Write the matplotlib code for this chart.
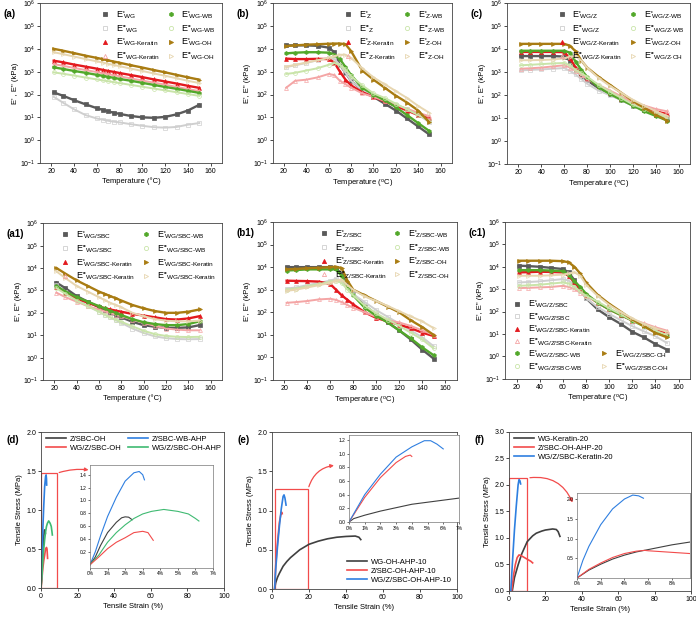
import numpy as np
import matplotlib
matplotlib.use("Agg")
import matplotlib.pyplot as plt
from matplotlib.lines import Line2D
from matplotlib.patches import Rectangle, FancyArrowPatch
from matplotlib.ticker import LogLocator, NullLocator

plt.rcParams['font.family'] = ['Liberation Sans', 'DejaVu Sans']
plt.rcParams['mathtext.fontset'] = 'custom'
plt.rcParams['mathtext.rm'] = 'Liberation Sans'
plt.rcParams['mathtext.it'] = 'Liberation Sans:italic'
plt.rcParams['mathtext.bf'] = 'Liberation Sans:bold'
plt.rcParams['axes.linewidth'] = 0.6
plt.rcParams['axes.edgecolor'] = '#444444'

# temperature grid (°C) of the read points
T = [22, 30, 40, 50, 60, 65, 70, 75, 80, 90, 100, 110, 120, 130, 140, 150]

# all moduli below are log10(E / kPa)
# (a) WG
a_base_e1 = [2.09, 1.95, 1.75, 1.57, 1.40, 1.33, 1.26, 1.20, 1.15, 1.06, 1.00, 0.98, 1.02, 1.13, 1.30, 1.55]
a_base_e2 = [1.90, 1.65, 1.35, 1.10, 0.95, 0.90, 0.85, 0.81, 0.78, 0.70, 0.63, 0.57, 0.55, 0.58, 0.68, 0.75]
a_ker_e1 = [3.48, 3.41, 3.31, 3.22, 3.13, 3.08, 3.03, 2.99, 2.94, 2.85, 2.76, 2.66, 2.57, 2.48, 2.38, 2.29]
a_ker_e2 = [3.33, 3.26, 3.16, 3.07, 2.98, 2.93, 2.89, 2.84, 2.80, 2.70, 2.61, 2.52, 2.43, 2.33, 2.24, 2.15]
a_wb_e1 = [3.19, 3.12, 3.03, 2.95, 2.86, 2.82, 2.77, 2.73, 2.68, 2.60, 2.51, 2.42, 2.33, 2.25, 2.16, 2.07]
a_wb_e2 = [2.97, 2.91, 2.83, 2.74, 2.66, 2.62, 2.58, 2.54, 2.50, 2.42, 2.34, 2.26, 2.18, 2.10, 2.02, 1.94]
a_oh_e1 = [4.00, 3.92, 3.81, 3.70, 3.60, 3.55, 3.49, 3.44, 3.39, 3.28, 3.18, 3.07, 2.97, 2.86, 2.75, 2.65]
a_oh_e2 = [3.85, 3.77, 3.66, 3.55, 3.45, 3.40, 3.34, 3.29, 3.24, 3.13, 3.03, 2.92, 2.82, 2.71, 2.60, 2.50]

# (b) Z
b_base_e1 = [4.15, 4.15, 4.15, 4.13, 4.05, 3.85, 3.30, 2.95, 2.60, 2.20, 1.90, 1.60, 1.30, 0.95, 0.60, 0.25]
b_base_e2 = [3.20, 3.28, 3.38, 3.50, 3.60, 3.55, 3.30, 2.95, 2.60, 2.20, 1.95, 1.75, 1.55, 1.35, 1.10, 0.80]
b_ker_e1 = [3.57, 3.55, 3.55, 3.56, 3.55, 3.40, 3.00, 2.65, 2.40, 2.10, 1.90, 1.70, 1.50, 1.30, 1.10, 0.95]
b_ker_e2 = [2.30, 2.60, 2.65, 2.75, 2.90, 2.85, 2.60, 2.45, 2.30, 2.05, 1.90, 1.72, 1.55, 1.38, 1.20, 1.05]
b_wb_e1 = [3.80, 3.83, 3.85, 3.85, 3.83, 3.75, 3.55, 3.20, 2.85, 2.30, 2.00, 1.75, 1.45, 1.10, 0.75, 0.40]
b_wb_e2 = [2.90, 2.95, 3.05, 3.15, 3.30, 3.38, 3.30, 3.10, 2.80, 2.40, 2.05, 1.85, 1.60, 1.35, 1.10, 0.85]
b_oh_e1 = [4.12, 4.15, 4.18, 4.20, 4.22, 4.23, 4.23, 4.20, 3.90, 3.05, 2.65, 2.30, 1.95, 1.65, 1.30, 0.78]
b_oh_e2 = [3.22, 3.30, 3.40, 3.50, 3.60, 3.68, 3.74, 3.74, 3.60, 3.15, 2.75, 2.45, 2.15, 1.85, 1.50, 1.20]

# (c) WG/Z
c_base_e1 = [3.70, 3.70, 3.70, 3.70, 3.68, 3.50, 3.10, 2.85, 2.65, 2.30, 2.05, 1.80, 1.55, 1.35, 1.15, 0.95]
c_base_e2 = [3.08, 3.10, 3.12, 3.15, 3.18, 3.05, 2.90, 2.70, 2.50, 2.20, 2.00, 1.78, 1.55, 1.38, 1.20, 1.10]
c_ker_e1 = [3.88, 3.88, 3.88, 3.88, 3.87, 3.60, 3.20, 2.95, 2.75, 2.40, 2.10, 1.85, 1.60, 1.45, 1.30, 1.18]
c_ker_e2 = [3.15, 3.17, 3.20, 3.25, 3.30, 3.20, 3.05, 2.88, 2.70, 2.45, 2.20, 1.95, 1.70, 1.55, 1.40, 1.30]
c_wb_e1 = [3.93, 3.93, 3.93, 3.93, 3.93, 3.85, 3.45, 3.10, 2.80, 2.35, 2.05, 1.80, 1.55, 1.30, 1.10, 0.90]
c_wb_e2 = [3.30, 3.32, 3.35, 3.38, 3.40, 3.30, 3.10, 2.95, 2.80, 2.45, 2.15, 1.88, 1.60, 1.40, 1.20, 1.00]
c_oh_e1 = [4.23, 4.23, 4.23, 4.23, 4.23, 4.15, 3.90, 3.50, 3.20, 2.80, 2.45, 2.10, 1.75, 1.45, 1.15, 0.90]
c_oh_e2 = [3.52, 3.52, 3.53, 3.55, 3.60, 3.68, 3.70, 3.50, 3.20, 2.75, 2.40, 2.10, 1.80, 1.55, 1.30, 1.10]

# (a1) WG/SBC
a1_base_e1 = [3.35, 3.10, 2.75, 2.50, 2.25, 2.12, 2.00, 1.90, 1.80, 1.60, 1.45, 1.38, 1.33, 1.33, 1.35, 1.45]
a1_base_e2 = [3.25, 2.95, 2.60, 2.30, 2.05, 1.92, 1.80, 1.67, 1.55, 1.30, 1.10, 0.95, 0.87, 0.83, 0.82, 0.83]
a1_ker_e1 = [3.15, 2.90, 2.65, 2.45, 2.28, 2.21, 2.15, 2.10, 2.05, 1.95, 1.88, 1.80, 1.72, 1.70, 1.75, 1.85]
a1_ker_e2 = [2.90, 2.70, 2.50, 2.30, 2.15, 2.07, 2.00, 1.92, 1.85, 1.70, 1.55, 1.42, 1.30, 1.25, 1.22, 1.22]
a1_wb_e1 = [3.20, 2.95, 2.70, 2.50, 2.30, 2.20, 2.10, 2.00, 1.90, 1.72, 1.58, 1.50, 1.45, 1.45, 1.50, 1.62]
a1_wb_e2 = [3.10, 2.85, 2.55, 2.30, 2.05, 1.92, 1.80, 1.70, 1.60, 1.40, 1.20, 1.05, 0.97, 0.93, 0.92, 0.93]
a1_oh_e1 = [4.00, 3.75, 3.45, 3.20, 2.95, 2.85, 2.75, 2.65, 2.55, 2.35, 2.20, 2.08, 2.00, 2.00, 2.05, 2.15]
a1_oh_e2 = [3.85, 3.55, 3.20, 2.95, 2.70, 2.57, 2.45, 2.35, 2.25, 2.00, 1.85, 1.72, 1.65, 1.62, 1.62, 1.65]

# (b1) Z/SBC
b1_base_e1 = [4.00, 4.00, 4.00, 4.00, 4.00, 3.95, 3.70, 3.20, 2.80, 2.30, 1.90, 1.55, 1.20, 0.80, 0.35, -0.05]
b1_base_e2 = [3.05, 3.10, 3.20, 3.30, 3.40, 3.48, 3.40, 3.10, 2.80, 2.45, 2.10, 1.80, 1.50, 1.20, 0.90, 0.50]
b1_ker_e1 = [3.40, 3.39, 3.38, 3.36, 3.25, 3.00, 2.75, 2.55, 2.35, 2.00, 1.75, 1.60, 1.45, 1.30, 1.10, 0.95]
b1_ker_e2 = [2.42, 2.45, 2.50, 2.57, 2.60, 2.55, 2.45, 2.32, 2.20, 2.00, 1.80, 1.65, 1.55, 1.40, 1.20, 1.00]
b1_wb_e1 = [3.85, 3.87, 3.90, 3.90, 3.90, 3.90, 3.60, 3.10, 2.75, 2.20, 1.85, 1.55, 1.20, 0.85, 0.45, 0.10]
b1_wb_e2 = [3.00, 3.05, 3.15, 3.25, 3.35, 3.40, 3.30, 3.00, 2.75, 2.30, 1.95, 1.68, 1.40, 1.10, 0.80, 0.40]
b1_oh_e1 = [3.90, 3.92, 3.95, 3.97, 4.00, 4.02, 3.95, 3.40, 3.00, 2.75, 2.50, 2.25, 2.00, 1.65, 1.35, 1.00]
b1_oh_e2 = [2.95, 3.00, 3.10, 3.20, 3.30, 3.40, 3.45, 3.20, 3.00, 2.70, 2.50, 2.28, 2.05, 1.82, 1.60, 1.30]

# (c1) WG/Z/SBC
c1_base_e1 = [4.05, 4.03, 4.00, 3.95, 3.90, 3.75, 3.40, 3.00, 2.60, 2.10, 1.75, 1.45, 1.10, 0.85, 0.55, 0.30]
c1_base_e2 = [3.30, 3.32, 3.35, 3.40, 3.45, 3.38, 3.20, 2.90, 2.60, 2.20, 1.90, 1.62, 1.35, 1.12, 0.90, 0.60]
c1_ker_e1 = [3.75, 3.76, 3.78, 3.77, 3.75, 3.60, 3.30, 3.00, 2.75, 2.40, 2.10, 1.85, 1.60, 1.40, 1.20, 1.05]
c1_ker_e2 = [3.05, 3.06, 3.08, 3.10, 3.15, 3.10, 3.00, 2.85, 2.70, 2.40, 2.10, 1.88, 1.65, 1.48, 1.30, 1.15]
c1_wb_e1 = [3.85, 3.85, 3.85, 3.83, 3.80, 3.65, 3.35, 3.10, 2.80, 2.40, 2.10, 1.85, 1.60, 1.35, 1.10, 0.90]
c1_wb_e2 = [3.15, 3.17, 3.20, 3.25, 3.30, 3.25, 3.10, 2.90, 2.70, 2.45, 2.15, 1.88, 1.60, 1.38, 1.15, 0.95]
c1_oh_e1 = [4.27, 4.27, 4.27, 4.27, 4.25, 4.20, 4.00, 3.70, 3.30, 2.75, 2.35, 2.00, 1.65, 1.35, 1.05, 0.85]
c1_oh_e2 = [3.60, 3.60, 3.60, 3.62, 3.65, 3.70, 3.75, 3.60, 3.20, 2.70, 2.30, 1.98, 1.70, 1.45, 1.25, 1.10]

# tensile curves: strain (%), stress (MPa)
d_zsbc_oh_x = [0, 0.3, 0.6, 1.0, 1.5, 1.8, 2.0, 2.2, 2.4]
d_zsbc_oh_y = [0, 0.12, 0.30, 0.50, 0.66, 0.73, 0.745, 0.74, 0.70]
d_zsbc_wb_x = [0, 0.3, 0.6, 1.0, 1.5, 2.0, 2.5, 2.8, 3.0, 3.1]
d_zsbc_wb_y = [0, 0.20, 0.45, 0.75, 1.05, 1.30, 1.43, 1.45, 1.40, 1.32]
d_wgz_oh_x = [0, 0.5, 1.0, 1.5, 2.0, 2.5, 3.0, 3.3, 3.6]
d_wgz_oh_y = [0, 0.12, 0.25, 0.35, 0.42, 0.50, 0.52, 0.50, 0.38]
d_wgz_ohahp_x = [0, 0.5, 1.0, 1.5, 2.0, 2.5, 3.0, 3.5, 4.2, 5.0, 5.6, 6.0, 6.2]
d_wgz_ohahp_y = [0, 0.15, 0.35, 0.50, 0.62, 0.72, 0.79, 0.83, 0.86, 0.83, 0.79, 0.72, 0.68]

e_wg_x = [1.4, 2, 3, 4, 6, 8, 10, 15, 20, 25, 30, 35, 40, 45, 47, 48]
e_wg_y = [0, 0.08, 0.15, 0.20, 0.29, 0.35, 0.40, 0.50, 0.57, 0.61, 0.64, 0.66, 0.67, 0.675, 0.66, 0.63]
e_zsbc_x = [1.4, 2, 3, 4, 4.8, 5.2, 5.5]
e_zsbc_y = [0, 0.30, 0.60, 0.85, 0.95, 0.98, 0.96]
e_wgz_x = [1.4, 2, 3, 4, 5, 6, 6.5, 7, 7.6]
e_wgz_y = [0, 0.25, 0.55, 0.80, 1.02, 1.18, 1.20, 1.16, 1.07]
e_in_wg_x = [0, 0.3, 1, 2, 3, 4, 5, 6, 7]
e_in_wg_y = [0, 0.05, 0.10, 0.16, 0.21, 0.26, 0.29, 0.32, 0.35]
e_in_zsbc_x = [0, 0.5, 1, 2, 3, 3.6, 3.9, 4.0]
e_in_zsbc_y = [0, 0.18, 0.36, 0.65, 0.87, 0.96, 0.98, 0.96]
e_in_wgz_x = [0, 0.5, 1, 2, 3, 4, 4.8, 5.2, 5.6, 6.0]
e_in_wgz_y = [0, 0.20, 0.40, 0.70, 0.95, 1.10, 1.19, 1.19, 1.14, 1.07]

f_wg_x = [1.8, 3, 5, 7, 10, 13, 15, 18, 20, 22, 24, 26, 27, 28]
f_wg_y = [0, 0.25, 0.49, 0.70, 0.93, 1.04, 1.09, 1.13, 1.15, 1.16, 1.17, 1.16, 1.12, 1.03]
f_zsbc_x = [1.5, 2.5, 3.5, 4.5, 5.5, 6.5, 8, 10, 12, 13]
f_zsbc_y = [0, 0.30, 0.50, 0.63, 0.68, 0.67, 0.64, 0.60, 0.56, 0.53]
f_wgz_x = [1.0, 2, 3, 4, 5, 5.5, 6, 6.4]
f_wgz_y = [0, 0.60, 1.15, 1.60, 2.00, 2.10, 2.08, 2.02]
f_in_wg_x = [0, 1, 2, 3, 4, 5, 6, 7, 8, 9.5]
f_in_wg_y = [0, 0.20, 0.35, 0.48, 0.58, 0.66, 0.72, 0.78, 0.84, 0.91]
f_in_zsbc_x = [0, 1, 2, 3, 4, 5, 5.7, 6, 7, 8, 9.5]
f_in_zsbc_y = [0, 0.22, 0.38, 0.52, 0.62, 0.68, 0.70, 0.69, 0.67, 0.65, 0.62]
f_in_wgz_x = [0, 0.5, 1, 2, 3, 4, 4.7, 5.2, 5.6]
f_in_wgz_y = [0, 0.45, 0.80, 1.35, 1.75, 2.00, 2.10, 2.08, 2.02]

# series styles: E', E'' for base, Keratin, WB, OH
STY = [
    dict(marker='s', color='#5a5a5a', mfc='#5a5a5a', lw=1.7),
    dict(marker='s', color='#cfcfcf', mfc='none', lw=1.4),
    dict(marker='^', color='#e3191e', mfc='#e3191e', lw=1.7),
    dict(marker='^', color='#f4a5a5', mfc='none', lw=1.4),
    dict(marker='h', color='#52a82a', mfc='#52a82a', lw=1.7),
    dict(marker='o', color='#c9e4a9', mfc='none', lw=1.4),
    dict(marker='>', color='#a97c12', mfc='#a97c12', lw=1.7),
    dict(marker='>', color='#e7d6b0', mfc='none', lw=1.4),
]
GRAY, RED, BLUE, GREEN = '#404040', '#f24b4b', '#2f7fe0', '#3fba72'

fig = plt.figure(figsize=(6.96, 6.2), dpi=100)


def lab(prime, sub):
    sub = sub.replace('-', '\u2010')
    return "E" + prime + r"$_{\mathregular{" + sub + "}}$"


def dma(rect, tag, data, subs, xlabel, legend='ur', ylabel="E', E'' (kPa)"):
    ax = fig.add_axes(rect)
    for i, v in enumerate(data):
        s = STY[i]
        ax.plot(T, 10 ** np.array(v), color=s['color'], lw=s['lw'], marker=s['marker'],
                ms=2.8, mfc=s['mfc'], mec=s['color'], mew=0.5)
    ax.set_yscale('log')
    ax.set_ylim(1e-1, 1e6)
    ax.set_xlim(10, 170)
    ax.set_xticks(range(20, 161, 20))
    ax.yaxis.set_major_locator(LogLocator(base=10, numticks=10))
    ax.yaxis.set_minor_locator(NullLocator())
    ax.tick_params(labelsize=5, length=2, width=0.5, pad=1.5)
    ax.set_xlabel(xlabel, fontsize=5.5, labelpad=2)
    ax.set_ylabel(ylabel, fontsize=5.5, labelpad=1)
    hs = []
    for i in range(8):
        s = STY[i]
        prime = "'" if i % 2 == 0 else "''"
        hs.append(Line2D([], [], ls='none', marker=s['marker'], ms=3, mfc=s['mfc'],
                         mec=s['color'], mew=0.6, label=lab(prime, subs[i])))
    kw = dict(frameon=False, fontsize=6.5, handlelength=1.2, handletextpad=0.6,
              borderpad=0.2)
    if legend == 'ur':
        ax.legend(handles=hs, ncol=2, loc='upper right', columnspacing=0.6,
                  labelspacing=0.25, **kw)
    else:
        l1 = ax.legend(handles=hs[:6], loc='lower left', labelspacing=0.1, **kw)
        ax.add_artist(l1)
        ax.legend(handles=hs[6:], loc='lower left', bbox_to_anchor=(0.47, 0.0),
                  labelspacing=0.1, **kw)
    fig.text(rect[0] - 0.052, rect[1] + rect[3] - 0.022, tag, fontsize=7, fontweight='bold')
    return ax


def subs_for(base, oh='OH'):
    return [base, base, base + '-Keratin', base + '-Keratin', base + '-WB', base + '-WB',
            base + '-' + oh, base + '-' + oh]


tC = "Temperature (°C)"
tO = "Temperature ($^\\mathregular{o}$C)"
dma([0.0575, 0.737, 0.2615, 0.258], '(a)',
    [a_base_e1, a_base_e2, a_ker_e1, a_ker_e2, a_wb_e1, a_wb_e2, a_oh_e1, a_oh_e2],
    subs_for('WG'), tC, ylabel="E' , E'' (kPa)")
dma([0.392, 0.737, 0.257, 0.258], '(b)',
    [b_base_e1, b_base_e2, b_ker_e1, b_ker_e2, b_wb_e1, b_wb_e2, b_oh_e1, b_oh_e2],
    subs_for('Z'), tO)
dma([0.7285, 0.735, 0.263, 0.26], '(c)',
    [c_base_e1, c_base_e2, c_ker_e1, c_ker_e2, c_wb_e1, c_wb_e2, c_oh_e1, c_oh_e2],
    subs_for('WG/Z'), tO)
dma([0.0618, 0.387, 0.257, 0.253], '(a1)',
    [a1_base_e1, a1_base_e2, a1_ker_e1, a1_ker_e2, a1_wb_e1, a1_wb_e2, a1_oh_e1, a1_oh_e2],
    subs_for('WG/SBC', 'Keratin'), tC)
dma([0.392, 0.387, 0.264, 0.255], '(b1)',
    [b1_base_e1, b1_base_e2, b1_ker_e1, b1_ker_e2, b1_wb_e1, b1_wb_e2, b1_oh_e1, b1_oh_e2],
    subs_for('Z/SBC'), tO)
dma([0.7256, 0.389, 0.266, 0.253], '(c1)',
    [c1_base_e1, c1_base_e2, c1_ker_e1, c1_ker_e2, c1_wb_e1, c1_wb_e2, c1_oh_e1, c1_oh_e2],
    subs_for('WG/Z/SBC'), tO, legend='ll')


def tensile(rect, tag, ymax, curves, legend_loc, ncol=1, bbox=None):
    ax = fig.add_axes(rect)
    for x, y, c, l in curves:
        ax.plot(x, y, color=c, lw=1.2, label=l)
    ax.set_xlim(0, 100)
    ax.set_ylim(0, ymax)
    ax.set_xticks(range(0, 101, 20))
    ax.set_yticks(np.arange(0, ymax + 0.01, 0.5))
    ax.tick_params(labelsize=5, length=2, width=0.5, pad=1.5)
    ax.set_xlabel('Tensile Strain (%)', fontsize=5.5, labelpad=2)
    ax.set_ylabel('Tensile Stress (MPa)', fontsize=5.5, labelpad=2)
    kw = dict(frameon=False, fontsize=5.5, handlelength=2.6, handletextpad=0.5,
              labelspacing=0.2, borderpad=0.2, ncol=ncol, columnspacing=0.8)
    if bbox is not None:
        kw['bbox_to_anchor'] = bbox
    ax.legend(loc=legend_loc, **kw)
    fig.text(rect[0] - 0.05, rect[1] + rect[3] - 0.018, tag, fontsize=7, fontweight='bold')
    return ax


def inset(rect, curves, xmax, xticks, yticks, ylim):
    ax = fig.add_axes(rect)
    for x, y, c in curves:
        ax.plot(x, y, color=c, lw=0.8)
    ax.set_xlim(0, xmax)
    ax.set_ylim(*ylim)
    ax.set_xticks(xticks)
    ax.set_xticklabels([f'{t}%' for t in xticks])
    ax.set_yticks(yticks)
    ax.set_yticklabels([f'{t:.1f}' for t in yticks])
    ax.tick_params(labelsize=3.5, length=1.5, width=0.4, pad=1)
    for sp in ax.spines.values():
        sp.set_linewidth(0.5)
        sp.set_color('#777777')
    return ax


# (d)
ax = tensile([0.0589, 0.0516, 0.263, 0.2516], '(d)', 2.0,
             [(d_zsbc_oh_x, d_zsbc_oh_y, GRAY, 'Z/SBC-OH'),
              (d_wgz_oh_x, d_wgz_oh_y, RED, 'WG/Z/SBC-OH'),
              (d_zsbc_wb_x, d_zsbc_wb_y, BLUE, 'Z/SBC-WB-AHP'),
              (d_wgz_ohahp_x, d_wgz_ohahp_y, GREEN, 'WG/Z/SBC-OH-AHP')],
             'upper left', ncol=2, bbox=(0.0, 1.01))
ax.add_patch(Rectangle((0, 0), 8.5, 1.47, fill=False, ec=RED, lw=0.9))
ax.add_patch(FancyArrowPatch((8.5, 1.47), (27.5, 1.51), connectionstyle='arc3,rad=-0.12',
                             arrowstyle='-|>', mutation_scale=5, color=RED, lw=0.9))
inset([0.1293, 0.0839, 0.1767, 0.166],
      [(d_zsbc_wb_x, d_zsbc_wb_y, BLUE), (d_zsbc_oh_x, d_zsbc_oh_y, GRAY),
       (d_wgz_ohahp_x, d_wgz_ohahp_y, GREEN), (d_wgz_oh_x, d_wgz_oh_y, RED)],
      7, range(0, 8), [0.2, 0.4, 0.6, 0.8, 1.0, 1.2, 1.4], (-0.05, 1.55))

# (e)
ax = tensile([0.3908, 0.05, 0.2658, 0.253], '(e)', 2.0,
             [(e_wg_x, e_wg_y, GRAY, 'WG-OH-AHP-10'),
              (e_zsbc_x, e_zsbc_y, RED, 'Z/SBC-OH-AHP-10'),
              (e_wgz_x, e_wgz_y, BLUE, 'WG/Z/SBC-OH-AHP-10')],
             'lower right')
ax.add_patch(Rectangle((1.4, 0), 18.1, 1.27, fill=False, ec=RED, lw=0.9))
ax.add_patch(FancyArrowPatch((19.5, 1.27), (35, 1.58), connectionstyle='arc3,rad=-0.35',
                             arrowstyle='-|>', mutation_scale=5, color=RED, lw=0.9))
inset([0.5014, 0.158, 0.158, 0.14],
      [(e_in_wg_x, e_in_wg_y, GRAY), (e_in_zsbc_x, e_in_zsbc_y, RED),
       (e_in_wgz_x, e_in_wgz_y, BLUE)],
      7, range(0, 8), [0.0, 0.2, 0.4, 0.6, 0.8, 1.0, 1.2], (0, 1.27))

# (f)
ax = tensile([0.7313, 0.0468, 0.2615, 0.2565], '(f)', 3.0,
             [(f_wg_x, f_wg_y, GRAY, 'WG-Keratin-20'),
              (f_zsbc_x, f_zsbc_y, RED, 'Z/SBC-OH-AHP-20'),
              (f_wgz_x, f_wgz_y, BLUE, 'WG/Z/SBC-Keratin-20')],
             'upper left', bbox=(0.0, 1.01))
ax.add_patch(Rectangle((0, 0), 10, 2.13, fill=False, ec=RED, lw=0.9))
ax.add_patch(FancyArrowPatch((10, 2.13), (35.5, 1.62), connectionstyle='arc3,rad=-0.4',
                             arrowstyle='-|>', mutation_scale=5, color=RED, lw=0.9))
inset([0.829, 0.0677, 0.162, 0.137],
      [(f_in_wg_x, f_in_wg_y, GRAY), (f_in_zsbc_x, f_in_zsbc_y, RED),
       (f_in_wgz_x, f_in_wgz_y, BLUE)],
      9.5, [0, 2, 4, 6, 8], [0.5, 1.0, 1.5, 2.0], (0, 2.15))

fig.savefig('out.png', dpi=100)
